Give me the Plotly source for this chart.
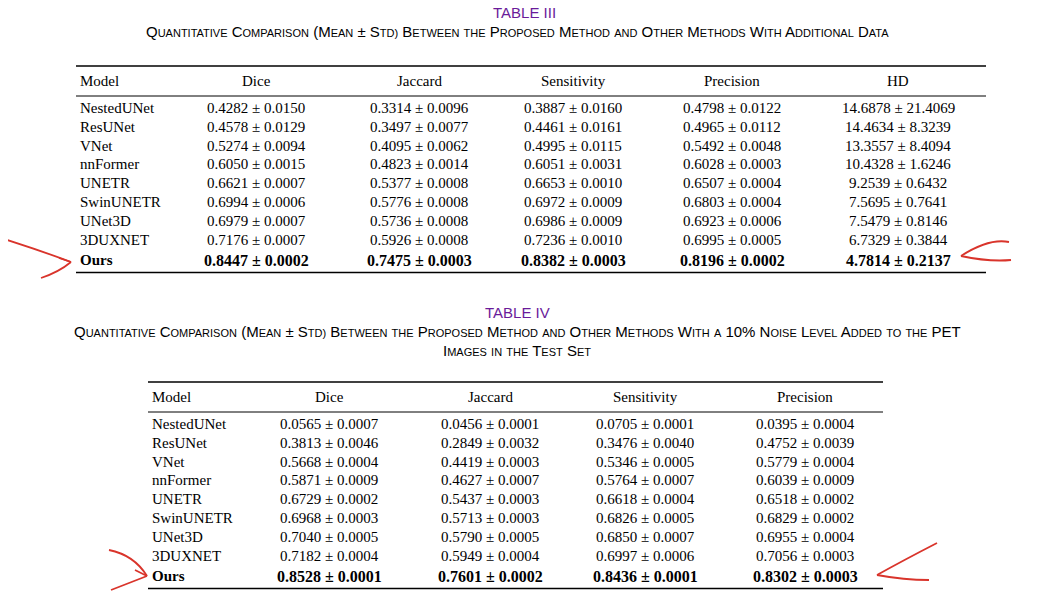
import plotly.graph_objects as go

# Tabla III: datos con datos adicionales
models = ["NestedUNet", "ResUNet", "VNet", "nnFormer", "UNETR", "SwinUNETR", "UNet3D", "3DUXNET", "Ours"]
cols3 = ["Dice", "Jaccard", "Sensitivity", "Precision", "HD"]
dice3 = [0.4282, 0.4578, 0.5274, 0.6050, 0.6621, 0.6994, 0.6979, 0.7176, 0.8447]
dice3_sd = [0.0150, 0.0129, 0.0094, 0.0015, 0.0007, 0.0006, 0.0007, 0.0007, 0.0002]
jac3 = [0.3314, 0.3497, 0.4095, 0.4823, 0.5377, 0.5776, 0.5736, 0.5926, 0.7475]
jac3_sd = [0.0096, 0.0077, 0.0062, 0.0014, 0.0008, 0.0008, 0.0008, 0.0008, 0.0003]
sen3 = [0.3887, 0.4461, 0.4995, 0.6051, 0.6653, 0.6972, 0.6986, 0.7236, 0.8382]
sen3_sd = [0.0160, 0.0161, 0.0115, 0.0031, 0.0010, 0.0009, 0.0009, 0.0010, 0.0003]
pre3 = [0.4798, 0.4965, 0.5492, 0.6028, 0.6507, 0.6803, 0.6923, 0.6995, 0.8196]
pre3_sd = [0.0122, 0.0112, 0.0048, 0.0003, 0.0004, 0.0004, 0.0006, 0.0005, 0.0002]
hd3 = [14.6878, 14.4634, 13.3557, 10.4328, 9.2539, 7.5695, 7.5479, 6.7329, 4.7814]
hd3_sd = [21.4069, 8.3239, 8.4094, 1.6246, 0.6432, 0.7641, 0.8146, 0.3844, 0.2137]

# Tabla IV: ruido 10%
cols4 = ["Dice", "Jaccard", "Sensitivity", "Precision"]
dice4 = [0.0565, 0.3813, 0.5668, 0.5871, 0.6729, 0.6968, 0.7040, 0.7182, 0.8528]
dice4_sd = [0.0007, 0.0046, 0.0004, 0.0009, 0.0002, 0.0003, 0.0005, 0.0004, 0.0001]
jac4 = [0.0456, 0.2849, 0.4419, 0.4627, 0.5437, 0.5713, 0.5790, 0.5949, 0.7601]
jac4_sd = [0.0001, 0.0032, 0.0003, 0.0007, 0.0003, 0.0003, 0.0005, 0.0004, 0.0002]
sen4 = [0.0705, 0.3476, 0.5346, 0.5764, 0.6618, 0.6826, 0.6850, 0.6997, 0.8436]
sen4_sd = [0.0001, 0.0040, 0.0005, 0.0007, 0.0004, 0.0005, 0.0007, 0.0006, 0.0001]
pre4 = [0.0395, 0.4752, 0.5779, 0.6039, 0.6518, 0.6829, 0.6955, 0.7056, 0.8302]
pre4_sd = [0.0004, 0.0039, 0.0004, 0.0009, 0.0002, 0.0002, 0.0004, 0.0003, 0.0003]

SERIF = "Liberation Serif"
SANS = "Liberation Sans"

fig = go.Figure()
ann = []


def txt(x, y, s, size=15, font=SERIF, color="black", anchor="center"):
    ann.append(dict(x=x, y=y, text=s, showarrow=False, xanchor=anchor, yanchor="middle",
                    font=dict(family=font, size=size, color=color)))


def smallcaps(s, small=11):
    out = []
    for word in s.split(" "):
        pre = ""
        while word and not word[0].isalnum():
            pre += word[0]
            word = word[1:]
        if not word:
            out.append(pre)
        elif word.isupper() or not word[0].isalpha():
            out.append(pre + word)
        elif word[0].isupper():
            out.append(pre + word[0] + f"<span style='font-size:{small}px'>{word[1:].upper()}</span>")
        else:
            out.append(pre + f"<span style='font-size:{small}px'>{word.upper()}</span>")
    return " ".join(out)


def hline(x0, x1, y, w=1.5):
    fig.add_shape(type="line", x0=x0, x1=x1, y0=y, y1=y, line=dict(color="black", width=w))


def table(x_model, x_cols, x_end, y_top, cols, series, row_dy):
    hline(x_model - 2, x_end, y_top, 1.5)
    y_head = y_top + 15
    txt(x_model, y_head, "Model", anchor="left")
    for xc, c in zip(x_cols, cols):
        txt(xc, y_head, c)
    hline(x_model - 2, x_end, y_top + 30, 1)
    y = y_top + 42
    for i, m in enumerate(models):
        bold = m == "Ours"
        if bold:
            y += 2
        txt(x_model, y, f"<b>{m}</b>" if bold else m, anchor="left")
        for xc, (mean, sd) in zip(x_cols, series):
            s = f"{mean[i]:.4f} ± {sd[i]:.4f}"
            txt(xc, y, f"<b>{s}</b>" if bold else s, size=16 if bold else 15)
        y += row_dy
    hline(x_model - 2, x_end, y - row_dy + 12, 1.5)


# Tabla III
txt(525, 12, "TABLE III", size=15, font=SANS, color="#6a1b9a")
txt(518, 31, smallcaps("Quantitative Comparison (Mean ± Std) Between the Proposed Method and Other Methods With Additional Data"), font=SANS)
table(79, [257, 420, 574, 733, 899], 987, 66, cols3,
      [(dice3, dice3_sd), (jac3, jac3_sd), (sen3, sen3_sd), (pre3, pre3_sd), (hd3, hd3_sd)], 18.8)

# Tabla IV
txt(518, 312, "TABLE IV", size=15, font=SANS, color="#6a1b9a")
txt(518, 331, smallcaps("Quantitative Comparison (Mean ± Std) Between the Proposed Method and Other Methods With a 10% Noise Level Added to the PET"), font=SANS)
txt(518, 350, smallcaps("Images in the Test Set"), font=SANS)
table(151, [330, 491, 646, 806], 884, 382, cols4,
      [(dice4, dice4_sd), (jac4, jac4_sd), (sen4, sen4_sd), (pre4, pre4_sd)], 18.8)

# flechas rojas a mano
red = dict(color="#d9342b", width=1.8)
fig.add_shape(type="path", path="M 2 238 Q 40 250 72 262", line=red)
fig.add_shape(type="path", path="M 72 262 L 60 258 M 72 262 Q 60 272 42 278", line=red)
fig.add_shape(type="path", path="M 962 256 Q 990 238 1010 242", line=red)
fig.add_shape(type="path", path="M 962 256 Q 990 262 1012 260", line=red)
fig.add_shape(type="path", path="M 110 550 Q 135 555 148 576", line=red)
fig.add_shape(type="path", path="M 148 576 L 136 570 M 148 576 Q 125 585 112 590", line=red)
fig.add_shape(type="path", path="M 878 575 Q 905 560 938 543", line=red)
fig.add_shape(type="path", path="M 878 575 Q 905 580 930 580", line=red)

fig.update_layout(
    annotations=ann,
    width=1051, height=605,
    margin=dict(l=0, r=0, t=0, b=0),
    plot_bgcolor="white", paper_bgcolor="white",
    # compensa el margen por defecto del body del navegador
    xaxis=dict(range=[9, 1060], visible=False, fixedrange=True),
    yaxis=dict(range=[613, 8], visible=False, fixedrange=True),
    showlegend=False,
)

fig.write_html("out.html")
